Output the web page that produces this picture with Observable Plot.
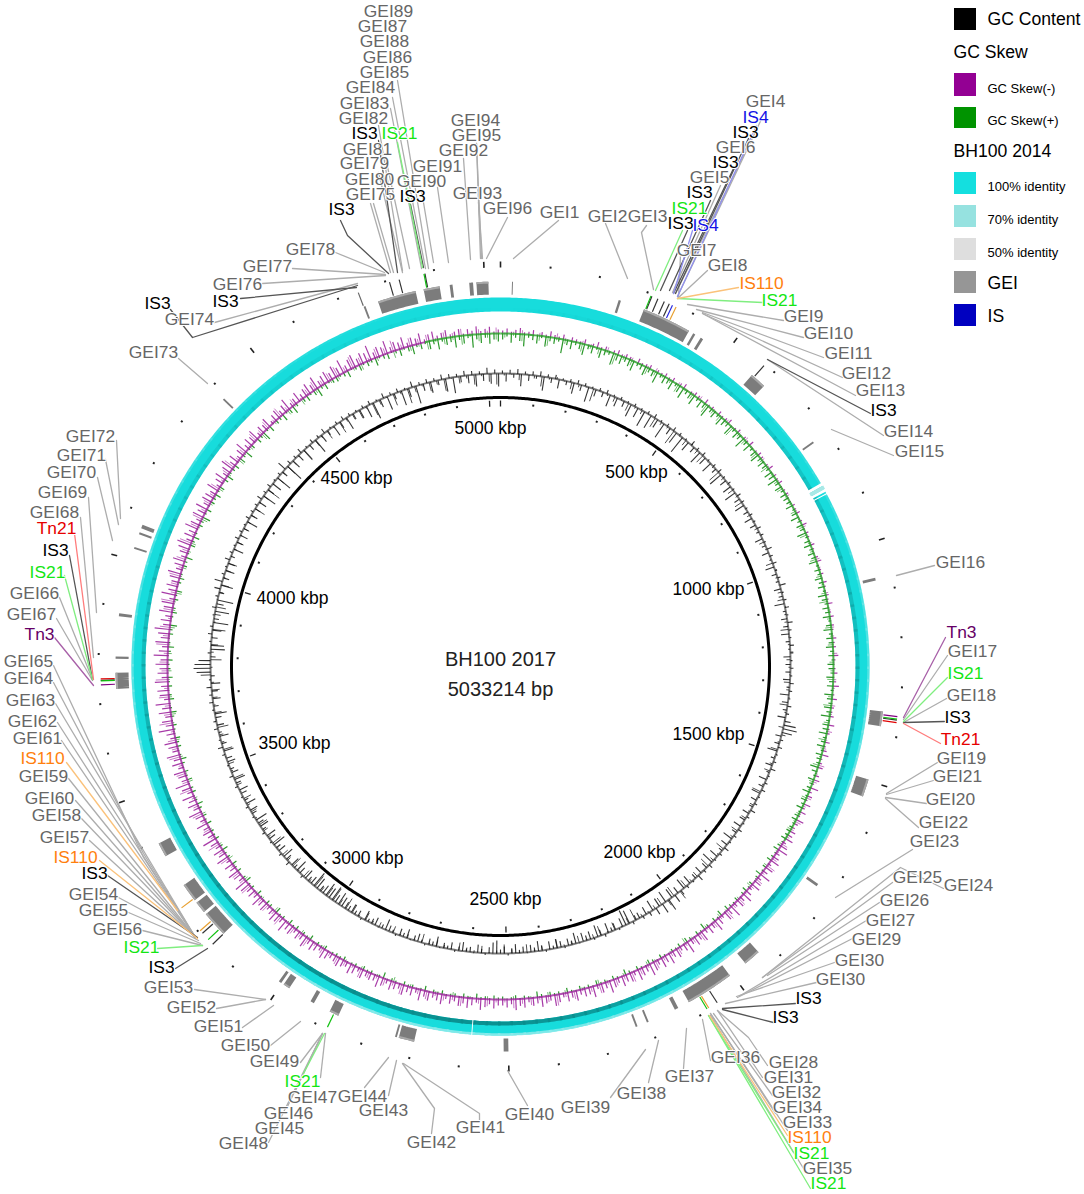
<!DOCTYPE html>
<html>
<head>
<meta charset="utf-8">
<script src="https://cdn.jsdelivr.net/npm/d3@7"></script>
<script src="https://cdn.jsdelivr.net/npm/@observablehq/plot@0.6"></script>
<style>html,body{margin:0;padding:0;background:#fff}svg{display:block}</style>
</head>
<body>
<div id="chart"></div>
<script>
const genomeKbp = 5033.214;
const centerLines = [["BH100 2017", 659], ["5033214 bp", 689]];
const kbpLabels = [["5000 kbp",490,428],["500 kbp",636,472],["1000 kbp",708,589],["1500 kbp",708,734],["2000 kbp",639,852],["2500 kbp",505,899],["3000 kbp",367,858],["3500 kbp",294,743],["4000 kbp",292,598],["4500 kbp",356,478]];

// GC content deviation, one value per 0.75 degree of the genome
const gcContent = [
3,-8,4,-4,5,-12,3,-6,4,-3,5,-14,3,-5,4,-9,2,-4,3,-11,4,-6,3,-15,2,-7,3,-5,4,-12,2,-9,3,-6,2,-13,3,-10,2,-16,
3,-14,4,-9,2,-16,3,-7,4,-12,3,-18,2,-10,5,-6,3,-13,4,-8,2,-11,3,-5,4,-14,2,-7,3,-9,2,-12,4,-6,3,-10,2,-5,3,-8,
2,-6,4,-3,3,-8,2,-4,5,-7,3,-2,4,-9,2,-5,3,-3,6,-7,2,-4,3,-10,4,-3,2,-6,5,-5,3,-8,2,-4,4,-2,3,-7,2,-5,
3,-5,2,-7,4,-3,3,-9,2,-6,4,-4,3,-8,6,12,14,10,-6,3,-5,4,-10,2,-4,3,-7,5,-3,2,-8,3,-5,4,-9,2,-6,3,-4,5,-7,
3,-6,2,-8,4,-5,3,-10,2,-7,5,-4,3,-9,2,-12,4,-6,3,-8,6,-5,2,-9,3,-11,5,-7,8,-10,12,-12,10,-9,7,-11,4,-8,3,-6,
-5,3,-14,-16,-9,2,-7,-4,-10,3,-6,-12,2,-8,-5,-9,1,-11,-4,-7,2,-6,-9,-3,-8,2,-5,-10,-4,-7,1,-6,-3,-9,-5,2,-7,-4,-13,-11,
-6,2,-4,-8,1,-5,-3,-9,-4,2,-7,-3,-5,1,-10,-4,-6,2,-3,-8,-5,1,-9,-4,-7,2,-3,-6,-11,-4,1,-8,-5,-3,-10,2,-6,-4,-9,-5,
-7,-10,-13,-8,-15,-11,-14,-9,-6,-12,-16,-8,-5,-10,3,-7,-12,-4,-9,4,-6,-11,3,-8,-5,-13,2,-7,-10,3,-4,-9,-6,-12,2,-5,-8,3,-10,-4,
2,-6,-9,3,-5,-11,4,-7,-4,2,-8,-6,3,-10,5,-5,2,-9,-3,4,-7,3,-6,-12,2,-5,4,-8,3,-6,5,-9,2,-4,14,17,16,12,-5,3,
-14,-13,2,-6,4,-9,3,-15,-5,2,-14,4,-7,-16,3,-5,6,-12,8,-6,3,-9,2,-7,5,-4,3,-10,2,-6,4,-8,3,-5,2,-11,4,-7,3,-6,
3,-8,5,-14,3,-7,4,-10,2,-16,3,-6,9,-18,4,-9,3,-7,5,-12,2,-6,4,-15,3,-8,5,-5,2,-11,3,-7,4,-13,3,-6,2,-9,
3,-12,4,-17,2,-8,5,-14,3,-6,4,-15,2,-9,6,-18,3,-7,4,-11,3,-5,5,-13,4,-16,3,-6,5,-8,4,-12,3,-7,6,-10,4,-13
];
// further GC readings between those, one per 1.5 degrees
const gcFine = [
-2,-1,-6,1,-3,-10,-2,2,-1,-7,-3,-1,-13,1,-2,-5,-1,-8,-2,-4,
-1,-10,-3,-2,-15,-1,-6,2,-4,-9,-1,-2,-12,-3,-1,-6,-2,-8,-1,-3,
-1,-3,1,-5,-2,-1,-7,2,-2,-1,-4,-6,1,-2,-3,-8,-1,-2,3,-4,
-2,-1,-6,-3,1,-8,-2,-1,-5,4,-2,-7,-1,-3,-6,1,-2,-9,-1,-4,
-2,-5,-1,-7,-3,1,-9,-2,-4,-10,-1,-6,-3,-8,9,-11,6,-8,-4,-2,
-3,-12,-6,-1,-8,-2,-10,-4,-1,-7,-3,-2,-9,-1,-5,-2,-8,-1,-4,-9,
-3,-1,-7,-2,-4,-8,-1,-3,-6,-2,-9,-1,-4,-2,-7,-1,-5,-3,-8,-2,
-9,-12,-6,-14,-10,-5,-13,-3,-8,-2,-11,-4,-7,-1,-10,-3,-5,-9,-2,-6,
-3,-8,-1,-5,-10,-2,-6,1,-9,-3,-4,-11,-1,-7,-2,-5,-8,-3,10,-2,
-11,-3,-7,-1,-13,-2,-6,-10,1,-4,-8,-2,-5,-9,-1,-3,-7,-2,-6,-4,
-4,-11,-2,-6,-14,-1,-8,-3,-10,-5,-2,-13,-1,-7,-3,-9,-2,-12,-4,-6,
-9,-2,-13,-5,-1,-12,-3,-15,-6,-2,-9,-4,-12,-1,-7,-3,-10,-2,-8,-11
];
const skewMinus = [
3,5,2,4,6,2,3,5,1,4,2,6,3,2,5,1,4,3,2,5,1,3,6,2,4,1,3,5,2,4,3,1,5,2,3,4,1,3,2,4,
2,4,1,3,5,1,2,4,3,1,5,2,3,1,4,2,3,5,1,2,4,1,3,2,5,1,2,4,3,1,2,5,1,3,2,4,1,2,3,1,
1,3,2,4,1,2,5,1,3,2,1,4,2,1,3,5,1,2,3,1,4,2,1,3,2,5,1,2,4,1,3,2,1,4,2,3,1,5,2,1,
2,4,1,3,6,1,2,5,1,3,2,4,1,6,2,3,1,5,2,4,7,2,3,5,1,4,6,2,8,3,5,2,7,3,6,2,8,4,3,6,
5,8,3,7,10,4,6,9,3,8,5,11,4,7,9,3,6,10,5,8,4,12,6,9,3,7,11,5,8,4,10,6,9,5,12,7,4,9,6,11,
7,10,5,9,12,6,8,11,4,9,7,10,5,8,12,6,9,4,11,7,8,5,10,6,9,4,8,11,5,7,10,6,8,4,9,7,11,5,8,6,
6,9,5,8,11,4,7,10,6,9,5,8,4,10,7,5,9,6,11,4,8,6,10,5,7,9,4,8,11,6,7,5,9,4,8,10,5,7,9,6,
5,8,10,4,7,9,5,11,6,8,4,9,7,12,5,8,10,6,4,9,7,11,5,8,6,10,13,5,8,11,6,9,4,12,7,10,5,8,14,6,
9,6,11,5,8,13,6,10,7,12,5,9,14,6,8,11,5,10,7,13,6,9,12,5,8,15,7,10,6,12,8,14,5,9,11,7,13,6,10,8,
12,7,14,9,6,13,8,11,15,7,10,6,13,9,12,5,14,8,11,7,10,13,6,9,12,5,8,11,14,6,10,7,13,9,5,11,8,12,6,10,
9,6,12,4,8,11,5,9,13,6,10,4,8,12,5,9,7,11,4,8,6,10,3,7,9,5,8,12,4,6,10,5,8,11,7,13,6,9,11,7,
12,8,14,6,10,13,7,11,9,15,6,10,8,13,5,9,7,11,4,8,6,10,3,7,9,4,6,8,3,5,7,2,6,4,8,3,5,7,2,4
];
const skewMinusFine = [
1,2,4,1,3,1,5,2,1,3,2,1,4,1,2,3,1,2,4,1,
1,3,1,2,4,1,2,1,3,1,2,4,1,1,3,2,1,2,1,3,
1,2,1,3,1,2,1,4,2,1,1,3,1,2,1,3,2,1,4,1,
1,3,2,1,4,2,1,5,2,3,1,6,2,4,1,5,3,2,6,3,
3,6,2,5,9,3,7,4,2,8,4,10,3,6,2,9,5,3,7,4,
4,8,3,6,10,4,7,3,9,5,2,8,4,11,6,3,7,5,9,3,
3,7,5,2,9,4,6,3,8,5,2,10,4,7,3,6,9,3,5,8,
4,6,3,9,5,7,2,10,4,8,5,3,11,6,8,3,9,5,12,4,
7,4,10,5,3,12,6,9,4,11,6,8,3,13,7,5,10,4,12,6,
8,4,12,6,10,3,9,13,5,7,11,4,9,6,12,3,8,10,5,7,
5,9,3,7,11,4,6,2,9,5,8,3,10,4,7,2,6,9,5,8,
10,5,12,7,3,9,6,11,4,8,5,7,2,6,4,7,2,5,3,6
];
const skewPlus = [
6,3,9,4,7,12,3,5,8,2,10,4,6,3,14,5,8,3,6,11,4,7,2,9,5,3,12,6,8,4,7,10,3,5,9,4,6,11,3,7,
5,9,3,7,11,4,6,10,3,8,5,12,4,7,3,9,6,4,10,3,7,5,11,4,8,3,6,9,4,7,5,3,8,6,10,4,7,3,6,5,
4,7,2,5,8,3,6,4,9,2,5,7,3,6,4,8,2,5,3,7,4,6,2,8,5,3,6,4,7,2,5,8,3,6,4,7,3,5,2,6,
5,3,7,4,6,2,8,5,3,7,4,9,3,6,5,8,3,4,7,2,6,4,3,8,5,2,6,3,4,7,2,5,3,6,2,4,5,2,3,4,
3,5,2,4,6,2,3,5,1,4,2,6,3,1,4,2,5,3,1,4,2,3,5,1,6,2,4,1,3,7,2,4,1,3,5,1,4,2,3,1,
2,4,1,3,5,1,2,4,1,3,6,1,2,4,1,3,2,5,1,3,2,4,1,2,5,1,3,2,4,1,3,6,1,2,3,1,4,2,1,3,
2,4,1,3,2,5,1,2,4,1,3,2,1,4,2,3,1,5,2,1,3,2,4,1,2,3,1,6,2,1,3,2,4,1,3,2,1,4,2,3,
2,1,4,2,3,1,5,2,3,1,4,2,5,1,3,2,6,1,3,4,1,2,5,1,3,2,6,3,1,4,2,5,1,3,2,6,3,1,4,2,
3,1,5,2,4,1,3,6,2,1,4,3,1,5,2,4,1,3,6,2,1,4,3,5,1,2,4,1,3,6,2,1,5,3,1,4,2,5,1,3,
2,5,1,3,6,2,1,4,3,7,1,2,5,3,1,4,2,6,1,3,5,2,1,4,3,7,2,1,5,3,6,2,1,4,3,8,2,5,1,4,
3,6,2,5,1,4,7,2,3,5,1,6,3,8,2,4,1,5,3,9,2,6,1,4,3,7,2,5,8,3,1,4,6,2,5,9,3,6,2,4,
5,2,4,7,1,3,6,2,5,3,8,2,4,6,1,3,7,2,5,9,3,6,2,8,4,10,3,7,5,11,4,8,3,13,5,9,4,10,6,8
];
const skewPlusFine = [
4,2,7,1,5,9,2,4,1,8,3,6,2,11,3,5,1,7,4,2,
3,8,2,5,1,9,4,6,2,10,3,5,1,7,3,8,2,4,6,2,
2,5,1,4,7,2,3,6,1,5,2,4,8,1,3,6,2,5,1,4,
3,6,1,4,8,2,5,1,7,3,2,6,1,4,2,5,1,3,2,4,
1,3,2,1,4,1,2,5,1,3,1,2,4,1,3,1,2,6,1,2,
1,2,4,1,1,3,1,2,5,1,2,1,3,1,4,1,2,1,3,1,
1,3,1,2,1,4,1,2,1,1,3,1,5,1,2,1,3,1,2,1,
1,3,1,2,4,1,2,1,5,1,3,2,1,4,1,2,5,1,3,1,
2,1,4,1,3,1,5,2,1,3,1,4,1,2,5,1,3,1,2,4,
1,4,2,1,5,1,3,2,6,1,2,4,1,3,5,1,2,6,1,3,
2,5,1,3,1,6,2,4,1,7,2,3,1,5,2,6,1,4,2,3,
4,1,3,6,2,4,1,7,2,5,3,8,2,6,3,9,2,7,4,6
];
// Which strand's skew dominates the baseline band (kbp)
const skewBands = [[0,1700,"#1a981a"],[1700,4850,"#981898"],[4850,5033.214,"#1a981a"]];

// GEI regions on the genome (start, end in kbp)
const geiRegions = [[4774,4855],[4872,4906],[4927,4933],[4968,4976],[4983,5008],[24,26],[250,255],[306,410],[420,425],[438,444],[570,604],[758,762],[1072,1078],[1352,1383],[1497,1534],[1739,1745],[1928,1964],[2005,2107],[2132,2140],[2200,2204],[2225,2229],[2500,2510],[2698,2731],[2735,2739],[2865,2885],[2922,2930],[2982,2996],[3002,3008],[3160,3215],[3221,3246],[3252,3291],[3362,3392],[3728,3762],[3791,3796],[3880,3886],[4024,4028],[4056,4060],[4069,4077],[4388,4392],[4742,4746]];

// Mobile elements on the genome (kbp)
const is3Sites = [4808,4828,4881,311,324,338,349,576,1366,2058,3190,3160,3747];
const is21Sites = [4879,309,1364,2082,3173,2875,3746];
const is4Sites = [356];
const is110Sites = [364,2078,3256,3197];
const tn3Sites = [1359,3738];
const tn21Sites = [1371,3750];
const otherBars = [4742];

// Identity gaps in the BH100 2014 ring (kbp)
const ringGaps = [[842,849,"#ffffff"],[849,857,"#a8e8e6"],[857,863,"#ffffff"],[867,869,"#ffffff"],[2578,2580,"#ffffff"]];
const ringInnerShade = [0,.1,.3,.4,.5,.65,.95,.95,.7,.4,.2,.1,0];
const ringOuterShade = [0,0,.2,.5,.7,.8,.9,.9,.7,.5,.3,.1,0];

// Callouts: name, label centre, then the leader's points
const geiCallouts = [
["GEI89",388,11,[]],["GEI87",382,26,[]],["GEI88",384,41,[]],["GEI86",387,57,[]],
["GEI85",384,72,[397,80,428,268]],["GEI84",370,87,[392,97,425,268]],["GEI83",364,103,[390,108,421,268]],["GEI82",363,118,[378,125,402,270]],
["GEI81",367,149,[385,157,409,268]],["GEI79",364,163,[378,172,402,272]],["GEI80",369,179,[370,203,390,272]],["GEI75",370,194,[373,203,393,272]],
["GEI90",421,181,[421,190,433,262]],["GEI91",437,166,[437,187,448,262]],["GEI92",463,150,[463,158,470,259]],["GEI94",475,120,[476,143,480,258]],["GEI95",476,135,[476,143,481,258]],["GEI93",477,193,[478,202,482,258]],["GEI96",507,208,[507,217,486,258]],
["GEI1",559,212,[558,220,513,258]],["GEI2",607,216,[605,223,627,278]],["GEI3",647,216,[646,225,641,232,653,289]],
["GEI4",765,101,[765,110,677,296]],["GEI6",735,147,[743,155,675,293]],["GEI5",709,177,[720,185,672,292]],["GEI7",696,250,[680,255,678,296]],["GEI8",727,265,[707,270,677,298]],
["GEI9",803,316,[783,320,687,304]],["GEI10",828,333,[803,337,696,309]],["GEI11",848,353,[823,357,702,312]],["GEI12",866,373,[842,377,702,313]],["GEI13",880,390,[855,395,702,313]],["GEI14",908,431,[883,435,767,359]],["GEI15",919,451,[893,455,831,429]],
["GEI16",960,562,[934,565,896,575]],["GEI17",972,651,[947,655,903,719]],["GEI18",971,695,[946,698,903,722]],["GEI19",961,758,[937,762,886,793]],["GEI21",957,776,[933,780,886,794]],["GEI20",950,799,[926,803,885,797]],["GEI22",943,822,[918,827,885,798]],["GEI23",934,841,[912,849,835,897]],
["GEI25",917,877,[892,882,762,977]],["GEI24",968,885,[943,888,900,867,762,977]],["GEI26",904,900,[879,902,767,975]],["GEI27",890,920,[866,920,740,995]],["GEI29",876,939,[852,938,737,997]],["GEI30",859,960,[834,962,736,996]],["GEI30",840,979,[816,982,725,1003]],
["GEI28",793,1062,[767,1065,748,1037,717,1010]],["GEI31",788,1077,[762,1077,717,1010]],["GEI32",796,1092,[772,1095,713,1013]],["GEI34",797,1107,[775,1113,710,1013]],["GEI33",807,1122,[787,1130,710,1013]],["GEI35",827,1168,[803,1168,710,1015]],
["GEI36",735,1057,[710,1060,702,1019]],["GEI37",689,1076,[683,1068,686,1028]],["GEI38",641,1093,[648,1082,658,1040]],["GEI39",585,1107,[610,1097,645,1049]],["GEI40",529,1114,[527,1105,507,1070]],
["GEI41",480,1127,[479,1120,479,1113,403,1063]],["GEI42",431,1142,[431,1133,434,1108,402,1063]],["GEI43",383,1110,[388,1095,396,1060]],["GEI44",362,1096,[364,1087,388,1057]],
["GEI47",312,1097,[320,1077,325,1033]],["GEI49",274,1061,[300,1062,322,1033]],["GEI46",288,1113,[295,1090,322,1033]],["GEI45",279,1128,[287,1106,322,1033]],["GEI48",243,1143,[268,1142,322,1033]],
["GEI50",245,1045,[270,1045,300,1021]],["GEI51",218,1026,[242,1027,273,1005]],["GEI52",191,1007,[216,1008,265,999]],["GEI53",168,987,[194,989,265,999]],
["GEI56",117,929,[142,930,202,945]],["GEI55",103,910,[128,912,200,943]],["GEI54",93,894,[118,897,198,940]],["GEI57",64,837,[89,840,195,937]],["GEI58",56,815,[81,818,195,937]],["GEI60",49,798,[75,800,195,937]],["GEI59",43,776,[68,778,195,937]],
["GEI61",37,738,[61,740,195,937]],["GEI62",32,721,[57,722,195,937]],["GEI63",30,700,[55,703,195,937]],["GEI64",28,678,[53,682,143,853,195,937]],["GEI65",28,661,[53,665,143,857,195,937]],
["GEI67",31,614,[56,618,92,680]],["GEI66",34,593,[59,597,92,679]],["GEI68",54,512,[80,517,93,657]],["GEI69",62,492,[88,497,96,612]],["GEI70",71,472,[97,477,112,540]],["GEI71",81,455,[105,459,118,524]],["GEI72",90,436,[116,440,120,518]],
["GEI73",153,352,[178,358,207,383]],["GEI74",189,319,[214,322,357,283]],["GEI76",237,284,[262,283,385,275]],["GEI77",267,266,[292,268,385,274]],["GEI78",310,249,[335,252,384,272]]
];
const is3Callouts = [
["IS3",364,133,[378,140,397,272]],["IS3",412,196,[410,204,423,267]],["IS3",341,209,[340,220,347,235,388,273]],["IS3",225,301,[240,298,356,287]],["IS3",157,303,[170,309,192,337,357,285]],
["IS3",745,132,[748,138,675,293]],["IS3",725,162,[733,168,673,293]],["IS3",699,192,[710,200,669,290]],["IS3",680,223,[687,230,660,290]],["IS3",883,410,[870,413,767,359]],
["IS3",957,717,[944,721,903,722]],["IS3",808,998,[795,1003,722,1008]],["IS3",785,1017,[773,1022,722,1009]],
["IS3",161,967,[175,968,207,948]],["IS3",94,873,[107,875,197,937]],["IS3",55,550,[69,555,92,679]]
];
const is21Callouts = [
["IS21",399,133,[397,142,422,267]],["IS21",689,208,[682,230,655,290]],["IS21",779,300,[762,302,677,298]],["IS21",965,673,[947,677,903,721]],
["IS21",811,1153,[793,1152,708,1015]],["IS21",828,1183,[810,1188,708,1015]],["IS21",302,1081,[303,1073,324,1033]],["IS21",141,947,[157,948,202,945]],["IS21",47,572,[64,575,92,679]]
];
const is4Callouts = [["IS4",755,117,[756,125,677,296]],["IS4",705,225,[692,230,673,293]]];
const is110Callouts = [["IS110",761,283,[738,287,677,298]],["IS110",809,1137,[787,1135,709,1015]],["IS110",42,758,[66,762,177,910]],["IS110",75,857,[99,860,197,938]]];
const tn3Callouts = [["Tn3",961,632,[945,637,903,717]],["Tn3",39,634,[54,637,93,685]]];
const tn21Callouts = [["Tn21",960,739,[940,743,903,723]],["Tn21",56,528,[74,533,93,679]]];

// Legend
const legendSwatches = [[8,30,"#000000"],[73,96,"#930093"],[107,128,"#009300"],[172,194,"#14dfdf"],[205,227,"#96e2e0"],[238,260,"#dedede"],[271,293,"#969696"],[304,326,"#0000c0"]];
const legendLabels = [["GC Content",987,19,17.6],["GC Skew",953,52,17.6],["GC Skew(-)",987,88,13],["GC Skew(+)",987,120,13],["BH100 2014",953,151,17.6],["100% identity",987,186,13],["70% identity",987,219,13],["50% identity",987,252,13],["GEI",987,283,17.6],["IS",987,316,17.6]];

// ---- geometry helpers (genome position + radius into the chart plane)
const cx = 500, cy = 666;
const at = (kbp, r) => { const t = kbp / genomeKbp * 2 * Math.PI; return [cx + r * Math.sin(t), cy - r * Math.cos(t)]; };
const arcPts = (a, b, r, id, extra = {}) => {
  const n = Math.max(1, Math.ceil((b - a) / 5));
  return d3.range(n + 1).map(i => { const [x, y] = at(a + (b - a) * i / n, r); return {x, y, id, ...extra}; });
};
const circle = r => arcPts(0, genomeKbp, r, "c" + r);
const spoke = (kbp, r1, r2, dy = 0) => { const [x1, y1] = at(kbp, r1), [x2, y2] = at(kbp, r2); return {x1, y1: y1 + dy, x2, y2: y2 + dy}; };
const sampleKbp = (i, n) => (i + 0.5) / n * genomeKbp;

const gcR = 290, skewR = 333, gcLift = -3;
const spikes = (vals, base, sign, dy = 0) => vals.map((v, i) => spoke(sampleKbp(i, vals.length), base, base + sign * v, dy));
const gcBand = circle(gcR).map(d => ({...d, y: d.y + gcLift}));
const spikeOpts = {x1: "x1", y1: "y1", x2: "x2", y2: "y2"};

const shadeAt = (arr, f) => { const p = f * (arr.length - 1), i = Math.min(arr.length - 2, Math.floor(p)); return arr[i] + (arr[i + 1] - arr[i]) * (p - i); };
const ringSegs = d3.range(0, 180).map(i => ({a: i / 180 * genomeKbp, b: (i + 1.2) / 180 * genomeKbp, f: (i + .5) / 180}));
const innerShade = ringSegs.flatMap((s, i) => arcPts(s.a, s.b, 357, "i" + i, {o: shadeAt(ringInnerShade, s.f)}));
const outerShade = ringSegs.flatMap((s, i) => arcPts(s.a, s.b, 368, "o" + i, {o: shadeAt(ringOuterShade, s.f)}));

const tracks = [[is3Sites,"#333333"],[is21Sites,"#10c010"],[is4Sites,"#2a2ae0"],[is110Sites,"#e8a030"],[tn3Sites,"#800080"],[tn21Sites,"#e00000"],[otherBars,"#666666"]];
const siteBars = tracks.flatMap(([list, c], j) => list.flatMap((k, i) => arcPts(k - 1.2, k + 1.2, 393, "s" + j + "-" + i, {c})));

const kinds = [
  [geiCallouts, "#666666", "#adadad"], [is3Callouts, "#000000", "#555555"], [is21Callouts, "#14e614", "#80ee80"],
  [is4Callouts, "#1414e6", "#9090f0"], [is110Callouts, "#ff7f0e", "#fbc27a"], [tn3Callouts, "#660066", "#a860a8"], [tn21Callouts, "#e60000", "#ff7c7c"]
];
const leaders = [], labels = [];
kinds.forEach(([list, tc, lc], k) => list.forEach(([name, x, y, pts], i) => {
  labels.push({name, x, y, tc});
  for (let j = 0; j + 1 < pts.length; j += 2) leaders.push({x: pts[j], y: pts[j + 1], id: k + "-" + i, lc});
}));

const majors = d3.range(0, genomeKbp, 500), minors = d3.range(0, genomeKbp, 100).filter(k => k % 500 !== 0);
const font = "Liberation Sans, Arial, sans-serif";

const chart = Plot.plot({
  width: 1084, height: 1194, margin: 0,
  x: {domain: [0, 1084], range: [0, 1084], axis: null},
  y: {domain: [0, 1194], range: [0, 1194], axis: null},
  style: {fontFamily: font, background: "#fff"},
  marks: [
    // identity ring
    Plot.line(circle(362), {x: "x", y: "y", stroke: "#17dcdc", strokeWidth: 14}),
    Plot.line(innerShade, {x: "x", y: "y", z: "id", stroke: "#0a8c8c", strokeWidth: 4, strokeOpacity: "o", strokeLinecap: "butt"}),
    Plot.line(outerShade, {x: "x", y: "y", z: "id", stroke: "#8aeaea", strokeWidth: 2.5, strokeOpacity: "o", strokeLinecap: "butt"}),
    Plot.line(ringGaps.flatMap(([a, b, c], i) => arcPts(a, b, 362, "g" + i, {c})), {x: "x", y: "y", z: "id", stroke: "c", strokeWidth: 16, strokeLinecap: "butt"}),
    // GC skew
    Plot.link(spikes(skewMinusFine, skewR, 1), {...spikeOpts, stroke: "#b040b0", strokeWidth: 1, strokeOpacity: 0.7}),
    Plot.link(spikes(skewMinus, skewR, 1), {...spikeOpts, stroke: "#981898", strokeWidth: 1.2, strokeOpacity: 0.85}),
    Plot.link(spikes(skewPlusFine, skewR, -1), {...spikeOpts, stroke: "#40a840", strokeWidth: 1, strokeOpacity: 0.75}),
    Plot.link(spikes(skewPlus, skewR, -1), {...spikeOpts, stroke: "#128c12", strokeWidth: 1.2, strokeOpacity: 0.9}),
    Plot.line(skewBands.flatMap(([a, b, c], i) => arcPts(a, b, skewR, "b" + i, {c})), {x: "x", y: "y", z: "id", stroke: "c", strokeWidth: 2, strokeOpacity: 0.75, strokeLinecap: "butt"}),
    // GC content
    Plot.line(gcBand, {x: "x", y: "y", stroke: "#222", strokeWidth: 2, strokeOpacity: 0.6}),
    Plot.link(spikes(gcFine, gcR, 1, gcLift), {...spikeOpts, stroke: "#222", strokeWidth: 1, strokeOpacity: 0.8}),
    Plot.link(spikes(gcContent, gcR, 1, gcLift), {...spikeOpts, stroke: "#111", strokeWidth: 1.1, strokeOpacity: 0.85}),
    // backbone circle and ticks
    Plot.line(circle(269), {x: "x", y: "y", stroke: "#000", strokeWidth: 3}),
    Plot.link(majors.map(k => spoke(k, 260, 266)), {...spikeOpts, stroke: "#222", strokeWidth: 1.3}),
    Plot.link(minors.map(k => spoke(k, 262, 264)), {...spikeOpts, stroke: "#222", strokeWidth: 2}),
    Plot.link(majors.map(k => spoke(k, 399, 405)), {...spikeOpts, stroke: "#222", strokeWidth: 1.6}),
    Plot.link(minors.map(k => spoke(k, 401, 403)), {...spikeOpts, stroke: "#222", strokeWidth: 2}),
    // GEI regions and mobile element sites
    Plot.line(geiRegions.flatMap(([a, b], i) => arcPts(a, b, 378.5, "r" + i)), {x: "x", y: "y", z: "id", stroke: "#7c7c7c", strokeWidth: 13, strokeLinecap: "butt", strokeLinejoin: "miter"}),
    Plot.line(geiRegions.filter(([a, b]) => b - a > 12).flatMap(([a, b], i) => arcPts(a, b, 384, "t" + i)), {x: "x", y: "y", z: "id", stroke: "#a8a8a8", strokeWidth: 2, strokeLinecap: "butt"}),
    Plot.line(siteBars, {x: "x", y: "y", z: "id", stroke: "c", strokeWidth: 14, strokeLinecap: "butt", strokeLinejoin: "miter"}),
    // leaders and labels
    Plot.line(leaders, {x: "x", y: "y", z: "id", stroke: "lc", strokeWidth: 1.3}),
    Plot.text(labels, {x: "x", y: "y", text: "name", fill: "tc", fontSize: 17.4, stroke: "#fff", strokeWidth: 2}),
    // ring labels and centre
    Plot.text(kbpLabels, {x: d => d[1], y: d => d[2], text: d => d[0], fontSize: 17.5, fill: "#000"}),
    Plot.text(centerLines, {x: () => cx, y: d => d[1], text: d => d[0], fontSize: 20, fill: "#222"}),
    // legend
    Plot.rect(legendSwatches, {x1: () => 954, x2: () => 976, y1: d => d[0], y2: d => d[1], fill: d => d[2]}),
    Plot.text(legendLabels, {x: d => d[1], y: d => d[2], text: d => d[0], fontSize: d => d[3], textAnchor: "start", fill: "#000"})
  ]
});
document.getElementById("chart").appendChild(chart);
</script>
</body>
</html>
